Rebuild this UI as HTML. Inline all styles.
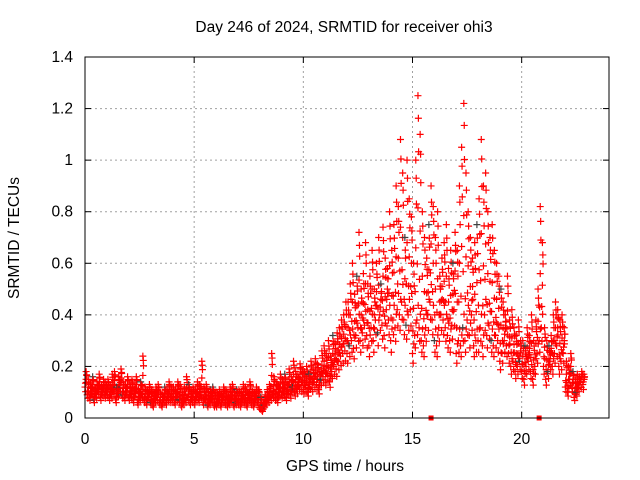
<!DOCTYPE html>
<html><head><meta charset="utf-8"><style>
body{margin:0;background:#fff}
svg{display:block;font-family:"Liberation Sans",sans-serif}
</style></head><body>
<svg id="chart" width="640" height="480">
<text x="344" y="32" text-anchor="middle" font-size="15.5">Day 246 of 2024, SRMTID for receiver ohi3</text>
<text x="345" y="471" text-anchor="middle" font-size="15.5">GPS time / hours</text>
<text transform="translate(19,238) rotate(-90)" text-anchor="middle" font-size="15.5">SRMTID / TECUs</text>
<g id="grid"></g><g id="ticks"></g><g id="marks"></g>
<rect x="85" y="57" width="524" height="361" fill="none" stroke="#000"/>
</svg>
<script>
const xTicks=[0,5,10,15,20];
const yTicks=[0,0.2,0.4,0.6,0.8,1,1.2,1.4];
const yTickLabels=["0","0.2","0.4","0.6","0.8","1","1.2","1.4"];
const markerTimes=[15.85,20.8];
const lowSeries=[.12,.09,.08,.10,.07,.09,.11,.08,.10,.09,
.10,.08,.09,.11,.07,.10,.12,.09,.08,.10,
.08,.09,.07,.10,.06,.08,.09,.07,.06,.08,
.06,.05,.07,.08,.06,.05,.07,.06,.08,.07,
.07,.06,.08,.07,.05,.06,.07,.08,.06,.07,
.06,.08,.07,.09,.06,.07,.05,.06,.07,.05,
.05,.06,.05,.07,.06,.05,.06,.07,.05,.06,
.06,.05,.07,.06,.05,.08,.06,.05,.07,.06,
.04,.03,.05,.06,.07,.08,.09,.08,.07,.10,
.09,.10,.08,.11,.09,.12,.10,.11,.13,.12,
.11,.12,.10,.13,.12,.14,.13,.11,.15,.16,
.15,.17,.14,.18,.20,.19,.22,.24,.25,.26,
.25,.28,.30,.27,.32,.35,.30,.33,.36,.32,
.28,.35,.30,.38,.33,.40,.36,.32,.42,.38,
.30,.38,.35,.42,.40,.45,.38,.36,.40,.42,
.25,.32,.38,.35,.30,.28,.35,.40,.45,.38,
.30,.28,.35,.40,.38,.35,.32,.30,.36,.42,
.25,.30,.28,.35,.30,.38,.32,.40,.28,.30,
.30,.35,.28,.40,.32,.36,.30,.28,.32,.30,
.22,.25,.30,.28,.25,.20,.22,.18,.20,.22,
.18,.15,.20,.22,.18,.15,.20,.25,.30,.35,
.20,.15,.18,.22,.20,.25,.28,.20,.22,.25,
.12,.10,.15,.12,.08,.10,.12,.14,.13];
const highSeries=[.18,.15,.13,.16,.12,.14,.17,.13,.15,.14,
.15,.13,.17,.18,.12,.16,.19,.14,.13,.16,
.13,.15,.12,.16,.11,.14,.24,.12,.11,.13,
.11,.10,.12,.13,.10,.09,.12,.11,.14,.12,
.12,.11,.14,.13,.10,.12,.16,.13,.11,.12,
.11,.14,.13,.22,.12,.13,.10,.11,.12,.10,
.10,.11,.09,.12,.11,.09,.12,.13,.10,.11,
.11,.10,.13,.12,.10,.14,.11,.10,.12,.11,
.08,.06,.09,.11,.13,.25,.16,.14,.13,.17,
.15,.17,.14,.19,.16,.22,.18,.17,.21,.19,
.18,.20,.17,.22,.19,.23,.21,.18,.26,.28,
.25,.30,.24,.32,.29,.33,.35,.38,.40,.45,
.45,.52,.60,.48,.55,.72,.50,.56,.68,.52,
.55,.65,.50,.60,.70,.52,.74,.62,.58,.80,
.65,.75,.90,.82,1.08,.95,.70,1.0,.85,.78,
.60,1.0,1.25,1.10,.80,.70,.62,.75,.90,.82,
.70,.80,.55,.62,.68,.75,.58,.65,.60,.72,
.65,.90,1.05,1.22,.95,.80,.70,.62,.68,.75,
.85,1.08,.90,.95,.80,.70,.75,.65,.60,.55,
.50,.45,.40,.55,.38,.42,.35,.32,.38,.30,
.30,.28,.35,.32,.40,.30,.38,.50,.82,.68,
.35,.30,.28,.32,.40,.45,.42,.38,.40,.35,
.22,.20,.25,.18,.15,.17,.16,.18,.17];
const timeStep=0.1;
const NS="http://www.w3.org/2000/svg";
const X0=85,X1=609,Y0=418,Y1=57,XMAX=24,YMAX=1.4;
const sx=v=>X0+v/XMAX*(X1-X0);
const sy=v=>Y0-v/YMAX*(Y0-Y1);
function mk(tag,attrs,parent){const e=document.createElementNS(NS,tag);for(const k in attrs)e.setAttribute(k,attrs[k]);parent.appendChild(e);return e;}
const grid=document.getElementById('grid'),ticks=document.getElementById('ticks'),marks=document.getElementById('marks');
yTicks.forEach((v,i)=>{
 const y=sy(v);
 if(i>0&&i<yTicks.length-1){const g=mk('line',{x1:X0,x2:X1,y1:y,y2:y,stroke:'#a0a0a0','stroke-dasharray':'2,3'},grid);
 
 }
 mk('line',{x1:X0,x2:X0+6,y1:y,y2:y,stroke:'#000'},ticks);
 mk('line',{x1:X1,x2:X1-6,y1:y,y2:y,stroke:'#000'},ticks);
 const t=mk('text',{x:X0-12,y:y+5,'text-anchor':'end','font-size':'15.5'},ticks);t.textContent=yTickLabels[i];
 
 
});
xTicks.forEach(v=>{
 const x=sx(v);
 if(v>0){const g=mk('line',{x1:x,x2:x,y1:Y0,y2:Y1,stroke:'#a0a0a0','stroke-dasharray':'2,3'},grid);
 
 }
 mk('line',{x1:x,x2:x,y1:Y0,y2:Y0-6,stroke:'#000'},ticks);
 mk('line',{x1:x,x2:x,y1:Y1,y2:Y1+6,stroke:'#000'},ticks);
 const t=mk('text',{x:x,y:Y0+26,'text-anchor':'middle','font-size':'15.5'},ticks);t.textContent=String(v);
 
 
});
function plus(t,v,color){
 const x=sx(t),y=sy(v);
 const p=mk('path',{d:`M${x-3.5},${y}h7M${x},${y-3.5}v7`,stroke:color,'stroke-width':1.2,fill:'none'},marks);
 
 
}
lowSeries.forEach((v,i)=>{
 const h=highSeries[i]||v,t=i*timeStep;
 plus(t,v,i%13==4?'#404040':'#f00');
 plus(t+0.03,v*0.85,'#f00');
 plus(t+0.06,v*1.15,'#f00');
 plus(t+0.02,v+(h-v)*0.25,'#f00');
 plus(t+0.05,v+(h-v)*0.5,'#f00');
 plus(t+0.08,v+(h-v)*0.75,'#f00');
});
highSeries.forEach((v,i)=>{plus(i*timeStep+0.05,v,i%11==3?'#404040':'#f00');plus(i*timeStep+0.07,v*0.93,'#f00');});
markerTimes.forEach(t=>{
 const r=mk('rect',{x:sx(t)-2.5,y:Y0-2.5,width:5,height:5,fill:'#f00'},marks);
 
 
});
</script>
</body></html>
